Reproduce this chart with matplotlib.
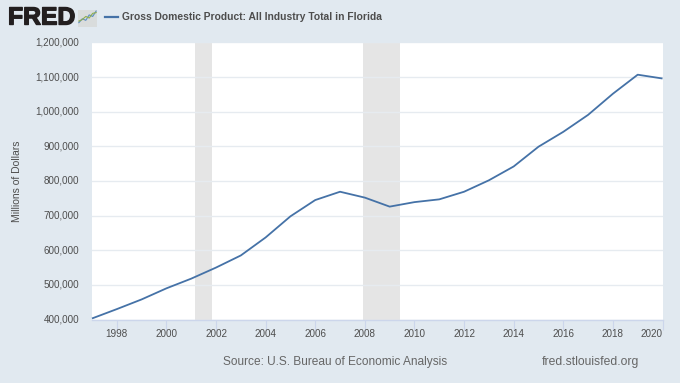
import matplotlib
matplotlib.use("Agg")
import matplotlib.pyplot as plt
import matplotlib.patheffects as pe

years = list(range(1997, 2021))
gdp = [403000, 430000, 458000, 490000, 518000, 550000, 585000, 637000,
       698000, 745000, 769000, 752000, 726000, 739000, 747000, 769000,
       802000, 842000, 899000, 942000, 991000, 1052000, 1107000, 1096000]
recessions = [(2001.17, 2001.83), (2007.92, 2009.42)]
y_ticks = [400000, 500000, 600000, 700000, 800000, 900000, 1000000, 1100000, 1200000]
x_ticks = list(range(1998, 2021, 2))
title = "Gross Domestic Product: All Industry Total in Florida"
y_label = "Millions of Dollars"
source = "Source: U.S. Bureau of Economic Analysis"
site = "fred.stlouisfed.org"
logo_a = [1, 2, 1.6, 3, 2.6, 4]
logo_b = [1.4, 1.8, 2.6, 2.2, 3.4, 3.6]

W, H = 680, 383
BG = "#e1e9f0"
LINE = "#4572a7"
TXT = "#666666"
plt.rcParams["font.family"] = ["Liberation Sans", "DejaVu Sans"]

fig = plt.figure(figsize=(W / 100, H / 100), dpi=100, facecolor=BG)
L, R, T, B = 92, 663, 42.5, 319.5
ax = fig.add_axes([L / W, 1 - B / H, (R - L) / W, (B - T) / H])
ax.set_xlim(1997, 2020.02)
ax.set_ylim(400000, 1200000)
ax.set_facecolor("white")
for a, b in recessions:
    ax.axvspan(a, b, color="#e5e5e5", lw=0, zorder=1)
ax.set_yticks(y_ticks)
ax.set_yticklabels([f"{v:,}" for v in y_ticks])
ax.set_xticks(x_ticks)
ax.set_xticklabels([str(v) for v in x_ticks])
ax.grid(axis="y", color="#e6ebf0", lw=1, zorder=2)
ax.plot(years, gdp, color=LINE, lw=1.3, zorder=3, clip_on=False, solid_capstyle="butt")
for s in ("top", "right", "left"):
    ax.spines[s].set_visible(False)
ax.spines["bottom"].set_color("#ccd6eb")
ax.spines["bottom"].set_linewidth(1)
ax.tick_params(axis="x", length=7, width=0.8, color="#ccd6eb", labelsize=7.1,
               labelcolor="#4d4d4d", pad=0)
ax.tick_params(axis="y", length=0, labelsize=7.1, labelcolor="#4d4d4d", pad=9.4)
for lab in ax.get_yticklabels():
    lab.set_va("center")
ax.get_xticklabels()[-1].set_ha("right")

fig.text(17 / W, 1 - 181 / H, y_label, rotation=90, ha="center", va="center",
         fontsize=7.5, color="#4d4d4d")
fig.text(223 / W, 1 - 362 / H, source, ha="left", va="center", fontsize=8.6, color=TXT)
fig.text(542 / W, 1 - 362 / H, site, ha="left", va="center", fontsize=8.7, color=TXT)

# header
fig.text(8 / W, 1 - 17.5 / H, "FRED", ha="left", va="center", fontsize=17.8,
         fontweight="bold", color="#231f20",
         path_effects=[pe.withStroke(linewidth=1.0, foreground="#231f20")])
fig.text(122.5 / W, 1 - 16.5 / H, title, ha="left", va="center", fontsize=7.36,
         fontweight="bold", color="#4d4d4d")
fig.add_artist(plt.Line2D([104.5 / W, 118 / W], [1 - 17 / H, 1 - 17 / H], color=LINE, lw=1.6))

icon = fig.add_axes([78 / W, 1 - 26.5 / H, 19 / W, 17 / H])
icon.set_facecolor("#d9dcdc")
icon.plot(range(6), logo_a, color="#5b8dc4", lw=0.8)
icon.plot(range(6), logo_b, color="#8fae4e", lw=0.8)
icon.set_xticks([]); icon.set_yticks([])
icon.set_ylim(0, 4.4)
for s in icon.spines.values():
    s.set_visible(False)

fig.savefig("out.png", dpi=100, facecolor=BG)
